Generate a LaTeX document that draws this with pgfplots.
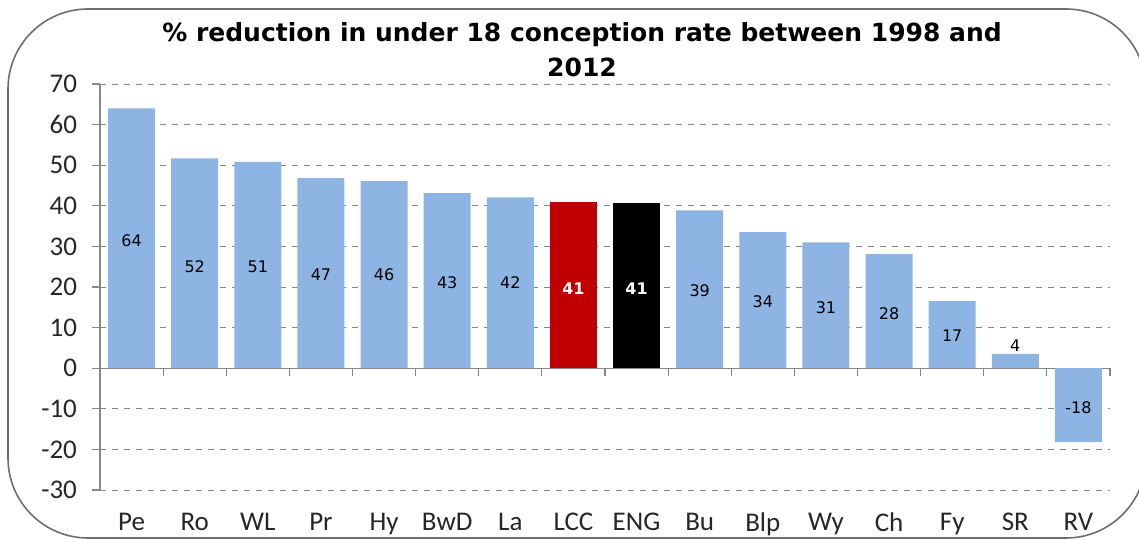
\documentclass[border=0pt]{standalone}
\usepackage{pgfplots}
\pgfplotsset{compat=1.18}
\usepackage{fontspec}
\setmainfont{Carlito}
\newfontfamily\titlefont{DejaVu Sans}
\definecolor{barblue}{RGB}{142,180,227}
\definecolor{barred}{RGB}{192,0,0}
\definecolor{gridgray}{RGB}{134,134,134}
\definecolor{framegray}{RGB}{110,110,110}

\begin{document}
\begin{tikzpicture}
\useasboundingbox (0,0) rectangle (569.5pt,270pt);
% rounded chart frame
\draw[framegray, line width=0.8pt, rounded corners=40pt] (4pt,1pt) rectangle (573pt,265.5pt);
\node[font=\titlefont\bfseries\fontsize{12.5}{17.5}\selectfont, align=center]
  at (291pt,245pt) {\% reduction in under 18 conception rate between 1998 and\\2012};
\begin{axis}[
  at={(50pt,25pt)}, anchor=south west,
  scale only axis, width=505pt, height=203pt,
  xmin=-0.5, xmax=15.5, ymin=-30, ymax=70,
  axis y line*=left, axis x line*=bottom,
  x axis line style={draw=none},
  y axis line style={gridgray, line width=0.6pt},
  ytick={-30,-20,-10,10,20,30,40,50,60,70},
  extra y ticks={0},
  extra y tick style={grid style={solid, gridgray, line width=0.6pt}},
  ymajorgrids, grid style={gridgray, dashed, line width=0.4pt},
  tick align=outside, major tick length=4pt,
  ytick style={gridgray, line width=0.6pt},
  xtick={0,...,15}, xtick style={draw=none},
  xticklabels={Pe,Ro,WL,Pr,Hy,BwD,La,LCC,ENG,Bu,Blp,Wy,Ch,Fy,SR,RV},
  /pgf/number format/assume math mode=true,
  tick label style={font=\fontsize{13.5}{15}\selectfont, text=black!85},
  xticklabel style={yshift=-4pt},
  yticklabel style={xshift=-4pt},
  clip=false,
]
\addplot[ybar, bar width=23.5pt, bar shift=0pt, fill=barblue, draw=none]
  coordinates {(0,64.0)(1,51.7)(2,50.8)(3,46.8)(4,46.1)(5,43.1)(6,42.1)
               (9,38.9)(10,33.5)(11,31.0)(12,28.1)(13,16.5)(14,3.5)(15,-18.2)};
\addplot[ybar, bar width=23.5pt, bar shift=0pt, fill=barred, draw=none]
  coordinates {(7,40.9)};
\addplot[ybar, bar width=23.5pt, bar shift=0pt, fill=black, draw=none]
  coordinates {(8,40.6)};
% category boundary ticks on the zero line
\pgfplotsinvokeforeach{0.5,1.5,2.5,3.5,4.5,5.5,6.5,7.5,8.5,9.5,10.5,11.5,12.5,13.5,14.5,15.5}{
  \draw[gridgray, line width=0.6pt] (axis cs:#1,0) -- ([yshift=-4pt]axis cs:#1,0);
}
% data labels
\addplot[only marks, mark=none, nodes near coords, point meta=explicit symbolic,
  nodes near coords style={anchor=center, font=\titlefont\fontsize{8}{9}\selectfont, text=black}]
  coordinates {(0,31.5)[64](1,25)[52](2,25)[51](3,23)[47](4,23)[46](5,21)[43](6,21)[42]
               (9,19)[39](10,16.5)[34](11,15)[31](12,13.5)[28](13,8)[17](14,5.6)[4](15,-9.8)[-18]};
\addplot[only marks, mark=none, nodes near coords, point meta=explicit symbolic,
  nodes near coords style={anchor=center, font=\titlefont\bfseries\fontsize{8}{9}\selectfont, text=white}]
  coordinates {(7,19.7)[41](8,19.7)[41]};
\end{axis}
\end{tikzpicture}
\end{document}
